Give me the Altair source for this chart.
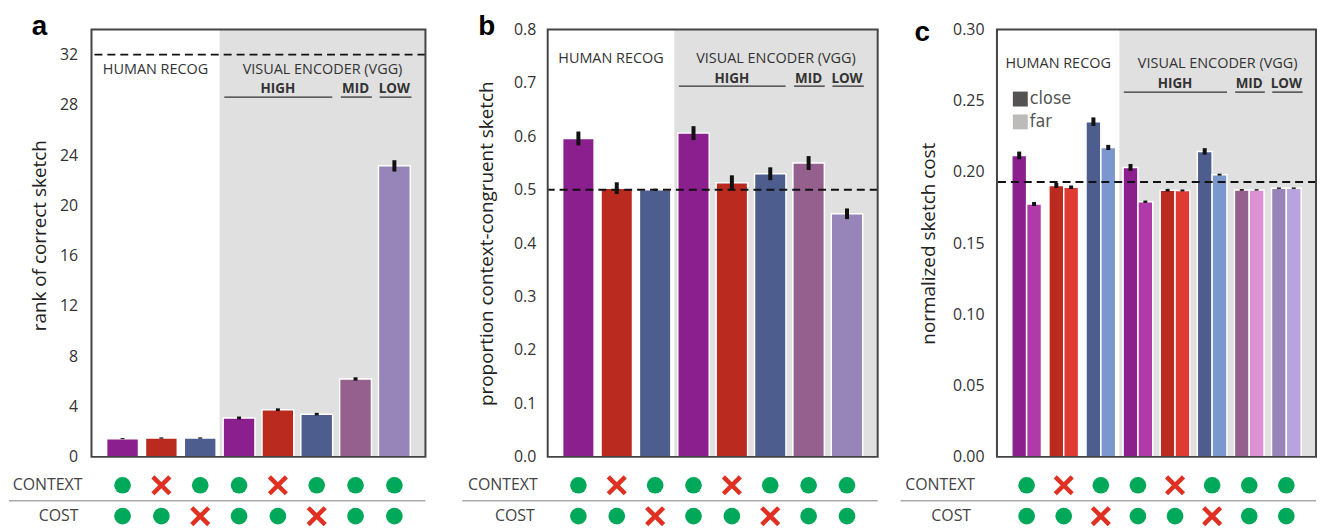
import altair as alt
import pandas as pd

# ---------------- data ----------------
condition_pos = [0, 1, 2, 3, 4, 5, 6, 7]
close_colors = ["#8A1F8D", "#BB2A1F", "#4C5D8E", "#8A1F8D", "#BB2A1F", "#4C5D8E", "#96608E", "#9784B8"]
far_colors = ["#B03AA8", "#E03B33", "#7A98CE", "#B03AA8", "#E03B33", "#7A98CE", "#DC91D2", "#B8A3DE"]

rank_mean = [1.45, 1.5, 1.5, 3.1, 3.75, 3.4, 6.2, 23.15]
rank_err = [0.04, 0.05, 0.05, 0.11, 0.11, 0.1, 0.13, 0.45]
rank_chance = 32

congruent_mean = [0.596, 0.503, 0.500, 0.606, 0.513, 0.530, 0.550, 0.455]
congruent_err = [0.013, 0.011, 0.002, 0.013, 0.014, 0.012, 0.013, 0.010]
congruent_chance = 0.5

cost_close = [0.2116, 0.1905, 0.2353, 0.2032, 0.1872, 0.2144, 0.1874, 0.1886]
cost_close_err = [0.0027, 0.0018, 0.0030, 0.0024, 0.0009, 0.0023, 0.0006, 0.0005]
cost_far = [0.1775, 0.1893, 0.2172, 0.1791, 0.1870, 0.1981, 0.1874, 0.1886]
cost_far_err = [0.0014, 0.0012, 0.0018, 0.0008, 0.0007, 0.0007, 0.0005, 0.0005]
cost_chance = 0.193

context_flags = [1, 0, 1, 1, 0, 1, 1, 1]
cost_flags = [1, 1, 0, 1, 1, 0, 1, 1]
row_labels = ["CONTEXT", "COST"]

group_labels = ["HUMAN RECOG", "VISUAL ENCODER (VGG)"]
group_centers = [0.85, 5.15]
layer_labels = ["HIGH", "MID", "LOW"]
layer_centers = [4.0, 6.0, 7.0]
layer_starts = [2.62, 5.62, 6.62]
layer_ends = [5.4, 6.42, 7.44]
human_end = 2.5
legend_labels = ["close", "far"]
legend_colors = ["#545252", "#BDBBBA"]

GREEN = "#00A85A"
RED = "#E03022"
XDOM = [-0.8, 7.8]
XPATH = "M-1,-1L1,1M1,-1L-1,1"
FONT = "Open Sans"


def xenc(field):
    return alt.X(field, type="quantitative",
                 scale=alt.Scale(domain=XDOM, nice=False, zero=False), axis=None)


def main_panel(bar_df, err_df, ydom, ticks, fmt, ytitle, chance, w, h,
               label_pad, title_x, title_y, letter, letter_x, letter_y,
               txt_y, legend_pos=None):
    yscale = alt.Scale(domain=ydom, nice=False, zero=False)
    yaxis = alt.Axis(values=ticks, format=fmt, title=ytitle, grid=False, ticks=False,
                     domain=False, labelPadding=label_pad, labelFontSize=16,
                     labelColor="#333", labelFont=FONT, titleFont=FONT, titleFontSize=19,
                     titleFontWeight="normal", titleColor="#222", titleX=title_x,
                     titleY=title_y, titleBaseline="alphabetic")

    def Y(field):
        return alt.Y(field, type="quantitative", scale=yscale, axis=yaxis)

    region = pd.DataFrame({"x0": [human_end], "x1": [XDOM[1]], "y0": [ydom[0]], "y1": [ydom[1]]})
    frame = pd.DataFrame({"x0": [XDOM[0]], "x1": [XDOM[1]], "y0": [ydom[0]], "y1": [ydom[1]]})

    bg = alt.Chart(region).mark_rect(color="#E0E0E0").encode(
        x=xenc("x0"), x2="x1", y=Y("y0"), y2="y1")
    bars = alt.Chart(bar_df).mark_rect(stroke="white", strokeWidth=1.5).encode(
        x=xenc("x0"), x2="x1", y=Y("base"), y2="value",
        color=alt.Color("color:N", scale=None))
    errs = alt.Chart(err_df).mark_rule(color="#111", strokeWidth=4).encode(
        x=xenc("xc"), y=Y("lo"), y2="hi")
    chance_rule = alt.Chart(pd.DataFrame({"c": [chance]})).mark_rule(
        color="#111", strokeDash=[8, 5], strokeWidth=2).encode(y=Y("c"))
    frm = alt.Chart(frame).mark_rect(fill="transparent", stroke="#444", strokeWidth=2).encode(
        x=xenc("x0"), x2="x1", y=Y("y0"), y2="y1")

    gtxt = alt.Chart(pd.DataFrame({"t": group_labels, "x": group_centers})).mark_text(
        fontSize=14.5, font=FONT, color="#333", baseline="middle").encode(
        x=xenc("x"), y=alt.value(txt_y[0]), text="t:N")
    ltxt = alt.Chart(pd.DataFrame({"t": layer_labels, "x": layer_centers})).mark_text(
        fontSize=13.5, font=FONT, fontWeight="bold", color="#333",
        baseline="middle").encode(x=xenc("x"), y=alt.value(txt_y[1]), text="t:N")
    lines = alt.Chart(pd.DataFrame({"a": layer_starts, "b": layer_ends})).mark_rule(
        color="#333", strokeWidth=1.3).encode(x=xenc("a"), x2="b", y=alt.value(txt_y[2]))
    let = alt.Chart(pd.DataFrame({"t": [letter]})).mark_text(
        fontSize=28, fontWeight="bold", font="Liberation Sans", align="left",
        baseline="alphabetic", color="black").encode(
        x=alt.value(letter_x), y=alt.value(letter_y), text="t:N")

    layers = [bg, bars, errs, chance_rule, frm, gtxt, ltxt, lines, let]
    if legend_pos is not None:
        lx, ly0, ly1, tx = legend_pos
        for lab, col, ly in zip(legend_labels, legend_colors, [ly0, ly1]):
            d = pd.DataFrame({"t": [lab]})
            layers.append(alt.Chart(d).mark_square(size=225, color=col, opacity=1).encode(
                x=alt.value(lx), y=alt.value(ly)))
            layers.append(alt.Chart(d).mark_text(
                fontSize=18, font="DejaVu Sans Condensed, Open Sans, sans-serif",
                color="#555", align="left", baseline="middle").encode(
                x=alt.value(tx), y=alt.value(ly), text="t:N"))
    return alt.layer(*layers).properties(width=w, height=h)


def marker_panel(w, line_left, ctx_right, cost_right):
    rows = []
    for p, c, k in zip(condition_pos, context_flags, cost_flags):
        rows.append({"pos": p, "row": 0, "ok": c})
        rows.append({"pos": p, "row": 1, "ok": k})
    df = pd.DataFrame(rows)
    ys = alt.Scale(domain=[-0.18, 1.3], reverse=True, nice=False, zero=False)
    yv = alt.Y("row:Q", scale=ys, axis=None)
    base = alt.Chart(df)
    circles = base.transform_filter("datum.ok == 1").mark_circle(
        size=280, color=GREEN, opacity=1).encode(x=xenc("pos"), y=yv)
    crosses = base.transform_filter("datum.ok == 0").mark_point(
        shape=XPATH, size=290, strokeWidth=4.5, color=RED, filled=False, opacity=1,
        strokeCap="butt").encode(x=xenc("pos"), y=yv)
    sep = alt.Chart(pd.DataFrame({"r": [0.5]})).mark_rule(color="#AAAAAA", strokeWidth=1.5).encode(
        x=alt.value(line_left), x2=alt.value(w), y=alt.Y("r:Q", scale=ys, axis=None))
    labs = []
    for i, (lab, xr) in enumerate(zip(row_labels, [ctx_right, cost_right])):
        labs.append(alt.Chart(pd.DataFrame({"t": [lab], "row": [i]})).mark_text(
            fontSize=16, font=FONT, color="#444", align="right", baseline="middle").encode(
            x=alt.value(xr), y=alt.Y("row:Q", scale=ys, axis=None), text="t:N"))
    return alt.layer(sep, circles, crosses, *labs).properties(width=w, height=46)


def simple_bars(vals, errs):
    bdf = pd.DataFrame({"x0": [p - 0.41 for p in condition_pos],
                        "x1": [p + 0.41 for p in condition_pos],
                        "base": 0, "value": vals, "color": close_colors})
    edf = pd.DataFrame({"xc": condition_pos,
                        "lo": [v - e for v, e in zip(vals, errs)],
                        "hi": [v + e for v, e in zip(vals, errs)]})
    return bdf, edf


H = 430
SP = 3
# panel a
bdf, edf = simple_bars(rank_mean, rank_err)
main_a = main_panel(bdf, edf, [0, 34], [0, 4, 8, 12, 16, 20, 24, 28, 32], "d",
                    "rank of correct sketch", rank_chance, 336, H, 14, -46, H / 2 - 8,
                    "a", -60, 6, [41, 60, 68])
panel_a = alt.vconcat(main_a, marker_panel(336, -83, -9, -13), spacing=SP)

# panel b
bdf, edf = simple_bars(congruent_mean, congruent_err)
main_b = main_panel(bdf, edf, [0, 0.8], [0, 0.1, 0.2, 0.3, 0.4, 0.5, 0.6, 0.7, 0.8], ".1f",
                    "proportion context-congruent sketch", congruent_chance, 332, H, 12, -56,
                    H / 2, "b", -70, 6, [30, 50, 57])
panel_b = alt.vconcat(main_b, marker_panel(332, -86, -10, -13), spacing=SP)

# panel c
cbars = pd.DataFrame({
    "x0": [p - 0.4 for p in condition_pos] + [p for p in condition_pos],
    "x1": [p for p in condition_pos] + [p + 0.4 for p in condition_pos],
    "base": 0,
    "value": cost_close + cost_far,
    "color": close_colors + far_colors})
cerrs = pd.DataFrame({
    "xc": [p - 0.2 for p in condition_pos] + [p + 0.2 for p in condition_pos],
    "lo": [v - e for v, e in zip(cost_close + cost_far, cost_close_err + cost_far_err)],
    "hi": [v + e for v, e in zip(cost_close + cost_far, cost_close_err + cost_far_err)]})
main_c = main_panel(cbars, cerrs, [0, 0.30], [0, 0.05, 0.10, 0.15, 0.20, 0.25, 0.30], ".2f",
                    "normalized sketch cost", cost_chance, 321, H, 13, -63, H / 2,
                    "c", -83, 12, [35, 55, 63], legend_pos=(23.5, 70, 93, 33))
panel_c = alt.vconcat(main_c, marker_panel(321, -97, -22, -26), spacing=SP)

chart = alt.hconcat(alt.hconcat(panel_a, panel_b, spacing=35), panel_c, spacing=21).properties(
    padding={"left": 0, "top": 4, "right": 0, "bottom": 0}
).configure_view(strokeWidth=0)

chart.save("out.html", embed_options={"renderer": "svg", "actions": False})
